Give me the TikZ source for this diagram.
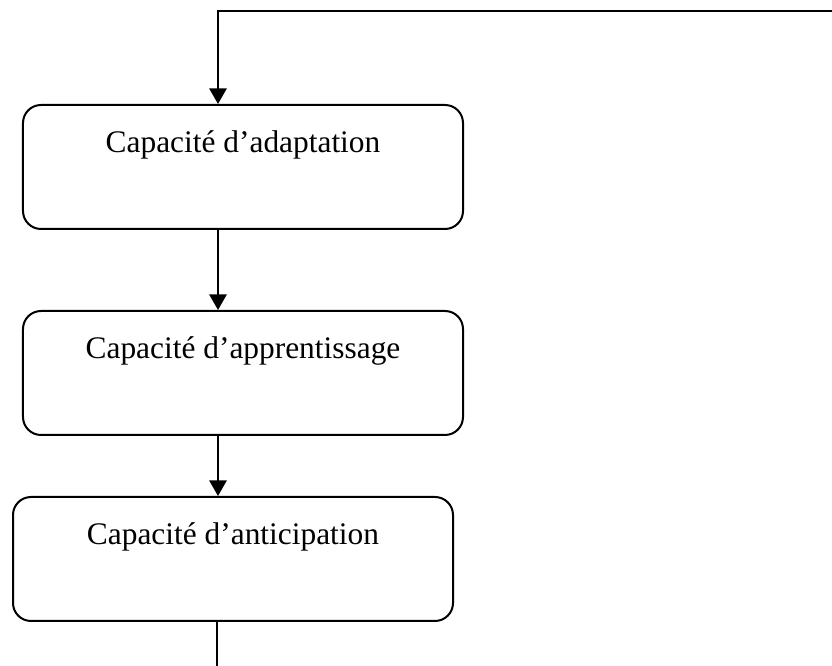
\documentclass[tikz,border=0pt]{standalone}
\usepackage{fontspec}
\setmainfont{Liberation Serif}
\usepackage{tikz}
\usetikzlibrary{positioning,calc,arrows.meta}

\tikzset{
  capbox/.style={draw, line width=0.06cm, rounded corners=0.54cm, inner sep=0pt,
    minimum width=13.2cm, text height=1.44cm, text depth=2.28cm,
    font=\fontsize{26.8}{32}\selectfont},
  flow/.style={line width=0.065cm, -{Triangle[length=0.47cm,width=0.52cm]}}
}

\begin{document}
\begin{tikzpicture}
    \useasboundingbox (0,0) rectangle (24.96,19.98);

    % Boxes
    \node[capbox] (adapt) at (7.29,14.97) {Capacité d’adaptation};
    \node[capbox] (learn) at (7.29,8.79) {Capacité d’apprentissage};
    \node[capbox] (antic) at (6.99,3.21) {Capacité d’anticipation};

    % Loop ends
    \coordinate (loopin) at (24.96,19.65);
    \coordinate (bend) at (6.54,19.65);
    \coordinate (loopout) at (6.51,0);

    % Connections
    \draw[flow] (loopin) -- (bend) -- (adapt.north -| bend);
    \draw[flow] (adapt.south -| bend) -- (learn.north -| bend);
    \draw[flow] (learn.south -| bend) -- (antic.north -| bend);
    \draw[line width=0.065cm] (antic.south -| loopout) -- (loopout);

\end{tikzpicture}
\end{document}
